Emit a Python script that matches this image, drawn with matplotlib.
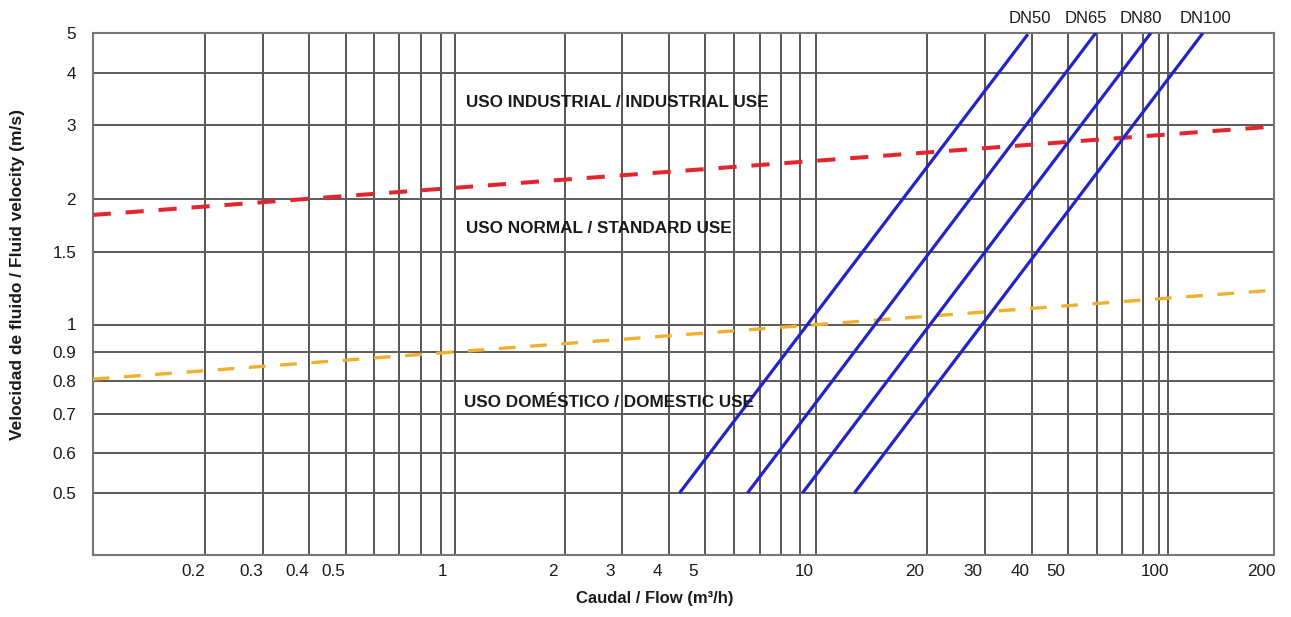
import numpy as np
import matplotlib
matplotlib.use("Agg")
import matplotlib.pyplot as plt
import matplotlib.transforms as mtransforms

plt.rcParams["font.family"] = ["Liberation Sans", "DejaVu Sans"]

# flow axis (m3/h)
X_TICKS = [0.2, 0.3, 0.4, 0.5, 1, 2, 3, 4, 5, 10, 20, 30, 40, 50, 100, 200]
X_TICK_LABELS = ["0.2", "0.3", "0.4", "0.5", "1", "2", "3", "4", "5",
                 "10", "20", "30", "40", "50", "100", "200"]
X_GRID = [0.2, 0.3, 0.4, 0.5, 0.6, 0.7, 0.8, 0.9, 1, 2, 3, 4, 5, 6, 7, 8, 9,
          10, 20, 30, 40, 50, 60, 70, 80, 90, 100]

# velocity axis (m/s)
Y_TICKS = [0.5, 0.6, 0.7, 0.8, 0.9, 1, 1.5, 2, 3, 4, 5]
Y_TICK_LABELS = ["0.5", "0.6", "0.7", "0.8", "0.9", "1", "1.5", "2", "3", "4", "5"]

# limits between the usage zones
ZONE_FLOW = [0.1, 200]
INDUSTRIAL_LIMIT = [1.83, 2.97]
DOMESTIC_LIMIT = [0.805, 1.21]

# pipe sizes
PIPES = ["DN50", "DN65", "DN80", "DN100"]
PIPE_FLOW_START = [4.27, 6.50, 9.15, 12.71]
PIPE_FLOW_END = [39.0, 59.6, 84.7, 126.2]
PIPE_VEL_START = [0.5, 0.5, 0.5, 0.5]
PIPE_VEL_END = [4.96, 5.0, 5.0, 5.0]

ZONE_TEXT = ["USO INDUSTRIAL / INDUSTRIAL USE",
             "USO NORMAL / STANDARD USE",
             "USO DOMÉSTICO / DOMESTIC USE"]
ZONE_TEXT_AT = [(1.075, 3.32), (1.075, 1.66), (1.062, 0.72)]

# the printed chart is not a clean log grid: the axes follow the measured
# spacing of its ruled lines (pixel columns / rows of the 1291x617 original)
X_KNOTS = [0.1, 0.2, 0.3, 0.4, 0.5, 0.6, 0.7, 0.8, 0.9, 1, 2, 3, 4, 5, 6, 7, 8, 9,
           10, 20, 30, 40, 50, 60, 70, 80, 90, 100, 200]
X_KNOT_PX = [92.7, 205, 263.3, 309.3, 345.7, 374.3, 399.3, 420.7, 440.7, 454.5,
             564.5, 622, 669, 705, 734, 760, 780.5, 800, 816, 927, 985, 1032,
             1067.5, 1097, 1122, 1143.3, 1159.2, 1167.5, 1273.5]
Y_KNOTS = [0.4, 0.5, 0.6, 0.7, 0.8, 0.9, 1, 1.5, 2, 3, 4, 5]
Y_KNOT_PX = [554.5, 493, 453, 414, 380.7, 351.7, 324.5, 251.5, 198.6, 124.7, 73.3, 32.8]

W, H = 1291, 617


def paper_axis(values, marks):
    lv = np.log10(values)
    mk = np.asarray(marks, float)
    s0 = (mk[1] - mk[0]) / (lv[1] - lv[0])
    s1 = (mk[-1] - mk[-2]) / (lv[-1] - lv[-2])
    lv = np.concatenate([[lv[0] - 20], lv, [lv[-1] + 20]])
    mk = np.concatenate([[mk[0] - 20 * s0], mk, [mk[-1] + 20 * s1]])

    def forward(v):
        v = np.clip(np.asarray(v, float), 1e-30, None)
        return np.interp(np.log10(v), lv, mk)

    def inverse(p):
        return 10 ** np.interp(np.asarray(p, float), mk, lv)

    return forward, inverse


fig = plt.figure(figsize=(W / 100, H / 100), dpi=100)
left, right = X_KNOT_PX[0] / W, X_KNOT_PX[-1] / W
top, bottom = 1 - Y_KNOT_PX[-1] / H, 1 - Y_KNOT_PX[0] / H
ax = fig.add_axes([left, bottom, right - left, top - bottom])

ax.set_xscale("function", functions=paper_axis(X_KNOTS, X_KNOT_PX))
ax.set_yscale("function", functions=paper_axis(Y_KNOTS, [-p for p in Y_KNOT_PX]))
ax.set_xlim(ZONE_FLOW[0], ZONE_FLOW[-1])
ax.set_ylim(Y_KNOTS[0], Y_KNOTS[-1])

# ruled grid
for x in X_GRID:
    ax.axvline(x, color="#404040", lw=1.25, zorder=1)
for y in Y_TICKS:
    ax.axhline(y, color="#5a5a5a", lw=1.4, zorder=1)

ax.plot(ZONE_FLOW, INDUSTRIAL_LIMIT, color="#e3262e", lw=2.9,
        dashes=(4.5, 3.7), dash_capstyle="butt", zorder=3)
ax.plot(ZONE_FLOW, DOMESTIC_LIMIT, color="#efb030", lw=2.4,
        dashes=(5.0, 4.4), dash_capstyle="butt", zorder=3)

label_dx = [1.7, -10.2, -10, 2]
for name, q0, q1, v0, v1, dx in zip(PIPES, PIPE_FLOW_START, PIPE_FLOW_END,
                                    PIPE_VEL_START, PIPE_VEL_END, label_dx):
    ax.plot([q0, q1], [v0, v1], color="#2323c8", lw=2.3,
            solid_capstyle="butt", zorder=4)
    ax.annotate(name, xy=(q1, 1), xycoords=("data", "axes fraction"),
                xytext=(dx * 0.72, 10.4), textcoords="offset points",
                ha="center", va="center", fontsize=12, color="#1a1a1a",
                annotation_clip=False)

for txt, (x, y) in zip(ZONE_TEXT, ZONE_TEXT_AT):
    ax.text(x, y, txt, ha="left", va="baseline", fontsize=12.3,
            fontweight="bold", color="#1a1a1a", zorder=5)

ax.set_xticks(X_TICKS, X_TICK_LABELS)
ax.set_yticks(Y_TICKS, Y_TICK_LABELS)
ax.xaxis.set_minor_locator(plt.NullLocator())
ax.yaxis.set_minor_locator(plt.NullLocator())
ax.tick_params(axis="x", length=0, pad=6.5, labelsize=12.3, labelcolor="#1a1a1a")
ax.tick_params(axis="y", length=0, pad=12, labelsize=12.3, labelcolor="#1a1a1a")

# printed flow labels sit a little left of their lines
shift = mtransforms.ScaledTranslation(-12 / 100, 0, fig.dpi_scale_trans)
for lab in ax.get_xticklabels():
    lab.set_transform(lab.get_transform() + shift)

for sp in ax.spines.values():
    sp.set_color("#767676")
    sp.set_linewidth(1.5)

fig.text(654.5 / W, 1 - 598 / H, "Caudal / Flow (m³/h)", ha="center", va="center",
         fontsize=12, fontweight="bold", color="#1a1a1a")
fig.text(18 / W, 1 - 275 / H, "Velocidad de fluido / Fluid velocity (m/s)",
         rotation=90, ha="center", va="center", fontsize=12.5, fontweight="bold",
         color="#1a1a1a")

fig.savefig("out.png", dpi=100)
